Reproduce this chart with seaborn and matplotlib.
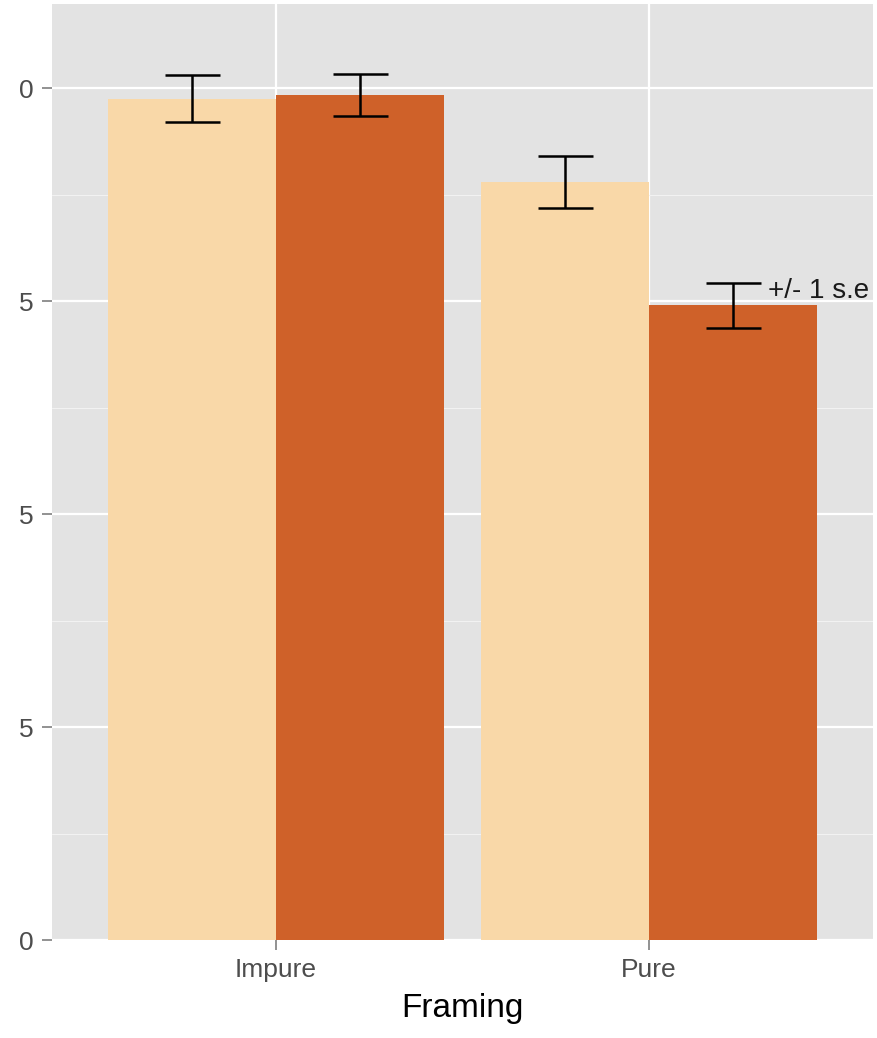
import seaborn as sns
import matplotlib.pyplot as plt
import pandas as pd

# Data
framing = ["Impure", "Impure", "Pure", "Pure"]
group = ["Condition 1", "Condition 2", "Condition 1", "Condition 2"]
means = [0.988, 0.992, 0.890, 0.745]
err_lo = [0.961, 0.967, 0.859, 0.718]
err_hi = [1.016, 1.017, 0.920, 0.772]
y_ticks = [0, 0.25, 0.5, 0.75, 1.0]
y_tick_labels = ["0", "5", "5", "5", "0"]
palette = ["#F9D8A8", "#CF6129"]

df = pd.DataFrame({"Framing": framing, "group": group, "value": means,
                   "lo": err_lo, "hi": err_hi})

sns.set_theme(style = "white")
plt.rcParams["font.family"] = ["Liberation Sans", "DejaVu Sans"]

# Figure And Panel Placement
fig = plt.figure(figsize = (8.78, 10.38), dpi = 100)
ax = fig.add_axes([52 / 878, 98 / 1038, 821 / 878, 936 / 1038])
ax.set_facecolor("#E3E3E3")

# Bars
sns.barplot(data = df, x = "Framing", y = "value", hue = "group",
            palette = palette, width = 0.9, saturation = 1,
            linewidth = 0, edgecolor = "none",
            legend = False, ax = ax, zorder = 2)
bar_containers = list(ax.containers)

# Error Bars (+/- 1 s.e) On Each Bar Centre
levels = df["group"].unique()
for cont, lev in zip(bar_containers, levels):
    sub = df[df["group"] == lev]
    for bar, (_, row) in zip(cont.patches, sub.iterrows()):
        xc = bar.get_x() + bar.get_width() / 2
        ax.errorbar(xc, row["value"],
                    yerr = [[row["value"] - row["lo"]], [row["hi"] - row["value"]]],
                    fmt = "none", ecolor = "black", elinewidth = 1.8,
                    capsize = 19.8, capthick = 1.8, zorder = 3)

# Label Next To The Last Error Bar
last = bar_containers[-1].patches[-1]
ax.annotate("+/- 1 s.e", xy = (last.get_x() + last.get_width() / 2, df["hi"].iloc[-1]),
            xytext = (25, -6), textcoords = "offset points",
            fontsize = 20, color = "#1A1A1A", va = "center", ha = "left")

# Axes, Grid And Ticks
ax.set_xlim(-0.6, 1.6)
ax.set_ylim(0, 1.099)
ax.set_yticks(y_ticks)
ax.set_yticklabels(y_tick_labels)
ax.set_yticks([0.125, 0.375, 0.625, 0.875], minor = True)
ax.grid(True, which = "major", color = "white", linewidth = 1.6, zorder = 0)
ax.grid(True, which = "minor", axis = "y", color = "#F2F2F2", linewidth = 0.8, zorder = 0)
ax.set_axisbelow(True)
ax.tick_params(axis = "both", which = "major", left = True, bottom = True,
               length = 7, width = 1.2, color = "#7F7F7F",
               labelsize = 19, labelcolor = "#4D4D4D", pad = 6)
ax.tick_params(axis = "y", which = "minor", length = 0)
ax.set_xlabel("Framing", fontsize = 24, color = "black", labelpad = 8)
ax.set_ylabel("")
for s in ax.spines.values():
    s.set_visible(False)

fig.savefig("out.png", dpi = 100)
